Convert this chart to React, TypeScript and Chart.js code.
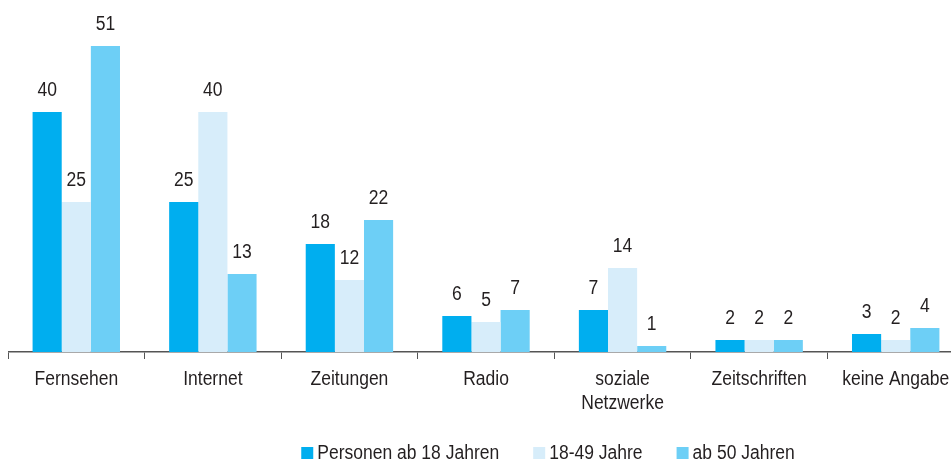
import React, { useEffect, useRef } from 'react';
import { Chart, registerables } from 'chart.js';

Chart.register(...registerables);

const categories: (string | string[])[] = [
  'Fernsehen',
  'Internet',
  'Zeitungen',
  'Radio',
  ['soziale', 'Netzwerke'],
  'Zeitschriften',
  'keine Angabe',
];
const seriesNames = ['Personen ab 18 Jahren', '18-49 Jahre', 'ab 50 Jahren'];
const personenAb18 = [40, 25, 18, 6, 7, 2, 3];
const jahre18bis49 = [25, 40, 12, 5, 14, 2, 2];
const ab50Jahren = [51, 13, 22, 7, 1, 2, 4];
const seriesColors = ['#00aeef', '#d7edfa', '#6dcff6'];

const FONT = '"Liberation Sans", Arial, sans-serif';
const TEXT = '#231f20';
const SX = 0.875;

function drawText(ctx: CanvasRenderingContext2D, text: string, x: number, y: number, align: CanvasTextAlign) {
  ctx.save();
  ctx.translate(x, y);
  ctx.scale(SX, 1);
  ctx.textAlign = align;
  ctx.textBaseline = 'alphabetic';
  ctx.fillText(text, 0, 0);
  ctx.restore();
}

const valueLabels = {
  id: 'valueLabels',
  afterDatasetsDraw(chart: any) {
    const ctx = chart.ctx;
    ctx.save();
    ctx.font = `20px ${FONT}`;
    ctx.fillStyle = TEXT;
    chart.data.datasets.forEach((ds: any, i: number) => {
      const meta = chart.getDatasetMeta(i);
      meta.data.forEach((el: any, j: number) => {
        drawText(ctx, String(ds.data[j]), el.x, el.y - 16, 'center');
      });
    });
    ctx.restore();
  },
};

const categoryLabels = {
  id: 'categoryLabels',
  afterDraw(chart: any) {
    const ctx = chart.ctx;
    const xs = chart.scales.x;
    const base = chart.chartArea.bottom + 33;
    ctx.save();
    ctx.font = `20px ${FONT}`;
    ctx.fillStyle = TEXT;
    (chart.data.labels as any[]).forEach((lab, i) => {
      const lines = Array.isArray(lab) ? lab : [lab];
      const x = xs.getPixelForValue(i);
      lines.forEach((ln: string, k: number) => drawText(ctx, ln, x, base + k * 24, 'center'));
    });
    ctx.restore();
  },
};

const bottomLegend = {
  id: 'bottomLegend',
  afterDraw(chart: any) {
    const ctx = chart.ctx;
    ctx.save();
    ctx.font = `20px ${FONT}`;
    const box = 12;
    const gapText = 4;
    const gapItem = 34;
    const ds = chart.data.datasets;
    const widths = ds.map((d: any) => ctx.measureText(d.label).width * SX);
    const total =
      widths.reduce((a: number, w: number) => a + box + gapText + w, 0) + gapItem * (ds.length - 1);
    let x = 540 - total / 2;
    const boxTop = 439;
    const baseline = 451;
    ds.forEach((d: any, i: number) => {
      ctx.fillStyle = d.backgroundColor;
      ctx.fillRect(x, boxTop, box, box);
      ctx.fillStyle = TEXT;
      drawText(ctx, d.label, x + box + gapText, baseline, 'left');
      x += box + gapText + widths[i] + gapItem;
    });
    ctx.restore();
  },
};

export default function App() {
  const ref = useRef<HTMLCanvasElement>(null);
  useEffect(() => {
    if (!ref.current) return;
    const chart = new Chart(ref.current, {
      type: 'bar',
      data: {
        labels: categories,
        datasets: [
          { label: seriesNames[0], data: personenAb18, backgroundColor: seriesColors[0] },
          { label: seriesNames[1], data: jahre18bis49, backgroundColor: seriesColors[1] },
          { label: seriesNames[2], data: ab50Jahren, backgroundColor: seriesColors[2] },
        ],
      },
      options: {
        responsive: false,
        animation: false,
        devicePixelRatio: 1,
        layout: { padding: { top: 2, left: 0, right: 0, bottom: 0 } },
        datasets: { bar: { categoryPercentage: 0.64, barPercentage: 1.0 } },
        plugins: {
          legend: { display: false },
          tooltip: { enabled: false },
        },
        scales: {
          x: {
            offset: true,
            grid: {
              display: true,
              drawOnChartArea: false,
              drawTicks: true,
              tickLength: 7,
              color: '#555555',
              offset: true,
            },
            border: { display: true, color: '#555555', width: 1.5 },
            ticks: { display: false, autoSkip: false },
            afterFit(scale: any) {
              scale.height = 111;
            },
          },
          y: {
            display: false,
            min: 0,
            max: 57,
          },
        },
      },
      plugins: [valueLabels, categoryLabels, bottomLegend],
    } as any);
    return () => chart.destroy();
  }, []);
  return (
    <div
      style={{
        position: 'fixed',
        left: 8,
        top: 8,
        width: 943,
        height: 455,
        overflow: 'hidden',
      }}
    >
      <canvas ref={ref} width={956} height={455} style={{ display: 'block' }} />
    </div>
  );
}
